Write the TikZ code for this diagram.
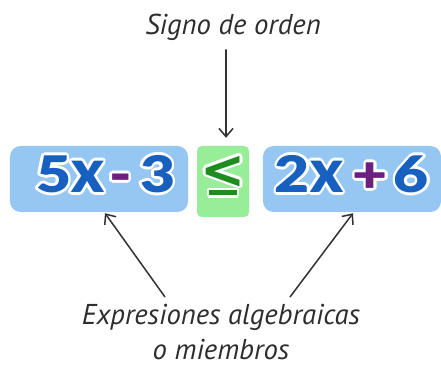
\documentclass[tikz,border=0pt]{standalone}
\usepackage{fontspec}
\setmainfont{PT Sans}
\newfontfamily\exprfont{Lato}[BoldFont={Lato Black},FakeStretch=1.2]
\newfontfamily\relfont{DejaVu Sans}
\usepackage[copies]{contour}
\usetikzlibrary{arrows.meta,positioning}
\definecolor{boxblue}{HTML}{96C6F2}
\definecolor{boxgreen}{HTML}{98EE98}
\definecolor{txtblue}{HTML}{1760C0}
\definecolor{txtpurple}{HTML}{6B1F7E}
\definecolor{txtgreen}{HTML}{1E8C1E}
\contourlength{2.2pt}
\newcommand{\ex}[2]{\contour{white}{\textcolor{#1}{#2}}}
\newcommand{\bigx}{\scalebox{1}[1.2]{x}}
\newcommand{\leqsign}{\begin{tabular}[t]{@{}c@{}}<\\[-40pt]\rule{0.82cm}{0.15cm}\end{tabular}}

\begin{document}
\begin{tikzpicture}[x=0.03cm, y=-0.03cm, font=\itshape\fontsize{24.5}{30}\selectfont,
  member/.style={fill=boxblue,rounded corners=9pt,minimum width=5.34cm,minimum height=1.98cm,
    inner sep=0pt,text depth=0.3cm,font=\exprfont\bfseries\fontsize{43}{43}\selectfont},
  relation/.style={fill=boxgreen,rounded corners=4pt,minimum width=1.56cm,minimum height=2.13cm,
    inner sep=0pt,text height=1.1cm,text depth=0.7cm,font=\relfont\bfseries\fontsize{46}{46}\selectfont},
  label/.style={text=black!82,align=center,inner sep=1pt},
  pointer/.style={draw=black!80,line width=1.3pt,-{Straight Barb[length=7pt,width=12pt,line width=1.3pt]}}]
  \useasboundingbox (0,0) rectangle (441,377);
  \node[member] (lhs) at (99,179) {\hspace{0.4cm}\ex{txtblue}{5\bigx}\hspace{0.15cm}\ex{txtpurple}{-}\hspace{0.25cm}\ex{txtblue}{3}};
  \node[relation] (rel) at (223,181.5) {\ex{txtgreen}{\leqsign}};
  \node[member] (rhs) at (352,179) {\ex{txtblue}{2\bigx}\hspace{0.3cm}\ex{txtpurple}{+}\hspace{0.18cm}\ex{txtblue}{6}};
  \node[label, anchor=base] (order) at (233,35) {Signo de orden};
  \node[label, anchor=north] (members) at (221,303) {Expresiones algebraicas\\o miembros};
  \draw[pointer] ([xshift=-0.21cm,yshift=-0.21cm]order.south) -- ([xshift=0.09cm,yshift=0.24cm]rel.north);
  \draw[pointer] ([xshift=-1.68cm,yshift=0.18cm]members.north) -- ([xshift=0.18cm,yshift=-0.03cm]lhs.south);
  \draw[pointer] ([xshift=2.07cm,yshift=0.18cm]members.north) -- ([xshift=0.03cm,yshift=-0.03cm]rhs.south);
\end{tikzpicture}
\end{document}
